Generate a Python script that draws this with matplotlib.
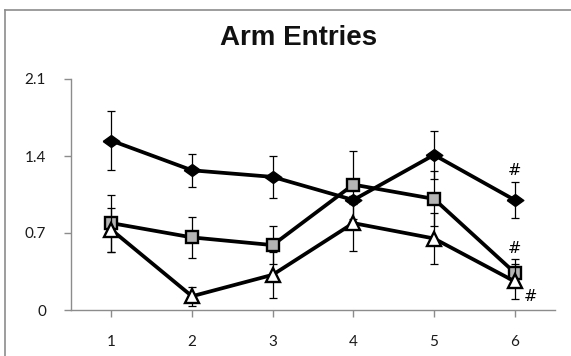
import matplotlib
matplotlib.use("Agg")
import matplotlib.pyplot as plt
from matplotlib.lines import Line2D

# Data
days = [1, 2, 3, 4, 5, 6]
diamond_vals = [1.54, 1.27, 1.21, 1.00, 1.41, 1.00]
diamond_err = [0.27, 0.15, 0.19, 0.04, 0.22, 0.165]
square_vals = [0.79, 0.66, 0.59, 1.14, 1.01, 0.34]
square_err = [0.26, 0.19, 0.17, 0.31, 0.25, 0.12]
triangle_vals = [0.73, 0.125, 0.32, 0.79, 0.65, 0.26]
triangle_err = [0.20, 0.085, 0.21, 0.25, 0.23, 0.16]
yticks = [0, 0.7, 1.4, 2.1]
ytick_labels = ["0", "0.7", "1.4", "2.1"]
title = "Arm Entries"
hash_marks = [(6.0, 1.27), (6.0, 0.56), (6.2, 0.12)]

W, H = 571, 356
fig = plt.figure(figsize=(W / 100, H / 100), dpi=100)
ax = fig.add_axes([71 / W, 1 - 310 / H, (555 - 71) / W, (310 - 79) / H])

wide_diamond = [(-1, 0), (0, 0.72), (1, 0), (0, -0.72), (-1, 0)]
series = [
    (diamond_vals, diamond_err, dict(marker=wide_diamond, markersize=12, markerfacecolor="black", markeredgecolor="black")),
    (square_vals, square_err, dict(marker="s", markersize=8.8, markerfacecolor="#b4b4b4", markeredgecolor="black", markeredgewidth=1.7)),
    (triangle_vals, triangle_err, dict(marker="^", markersize=10.5, markerfacecolor="white", markeredgecolor="black", markeredgewidth=1.7)),
]
z = 3
for vals, err, mk in series:
    ax.errorbar(days, vals, yerr=err, fmt="none", ecolor="black", elinewidth=0.9,
                capsize=3.2, capthick=0.9, zorder=z)
    ax.plot(days, vals, color="black", linewidth=2.7, zorder=z + 1, **mk)
    z += 2

for x, y in hash_marks:
    ax.text(x, y, "#", ha="center", va="center", fontsize=11.5, family="DejaVu Sans", zorder=10)

ax.set_xlim(0.5, 6.5)
ax.set_ylim(0, 2.1)
ax.set_xticks(days)
ax.set_xticklabels([str(d) for d in days])
ax.set_yticks(yticks)
ax.set_yticklabels(ytick_labels)
for s in ["top", "right"]:
    ax.spines[s].set_visible(False)
for s in ["left", "bottom"]:
    ax.spines[s].set_color("#8c8c8c")
    ax.spines[s].set_linewidth(1.0)
ax.tick_params(axis="both", direction="out", length=5, width=1.0, color="#8c8c8c",
               labelsize=11, labelcolor="#1a1a1a")
ax.tick_params(axis="x", pad=13)
ax.tick_params(axis="y", pad=13)
for lab in ax.get_xticklabels() + ax.get_yticklabels():
    lab.set_family("Lato")
ax.patch.set_visible(False)

fig.text(298.5 / W, 1 - 38 / H, title, ha="center", va="center", fontsize=20,
         fontweight="bold", family="Liberation Sans", color="#111111")

# figure border (left and top edges visible)
fig.add_artist(Line2D([4.5 / W, 4.5 / W], [0, 1 - 9.5 / H], transform=fig.transFigure, color="#8c8c8c", linewidth=1.2))
fig.add_artist(Line2D([4.5 / W, 1], [1 - 9.5 / H, 1 - 9.5 / H], transform=fig.transFigure, color="#8c8c8c", linewidth=1.2))

fig.savefig("out.png", dpi=100)
